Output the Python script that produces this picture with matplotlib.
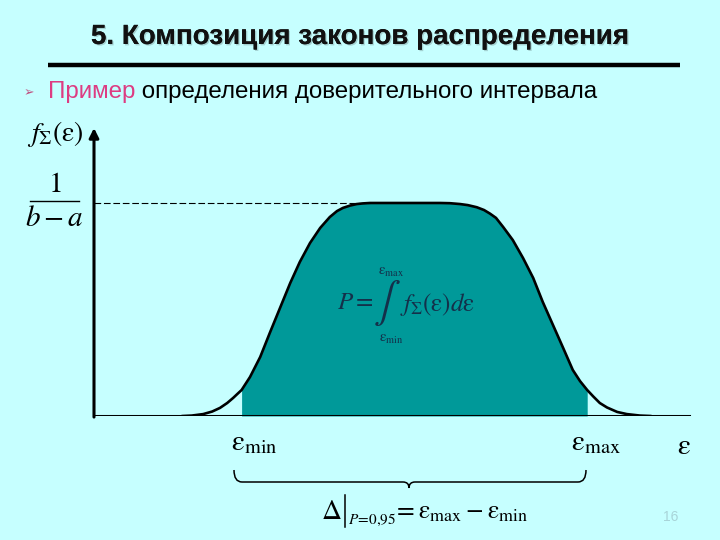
import numpy as np
import matplotlib.pyplot as plt
from matplotlib.path import Path
from matplotlib.patches import PathPatch
import matplotlib.patheffects as pe

plt.rcParams['mathtext.fontset'] = 'stix'
plt.rcParams['font.family'] = ['Liberation Sans', 'DejaVu Sans']

# curve: eps in 0..100 axis units, f normalised to 1/(b-a)
eps = [14.8, 16.3, 18.2, 19.7, 21.0, 22.2, 23.2, 23.8, 24.6, 26.0, 27.7, 29.3,
       31.0, 32.7, 34.3, 36.0, 37.7, 39.3, 40.5, 41.5, 42.7, 43.8, 44.8, 46.0,
       57.7, 59.3, 61.0, 62.3, 63.8, 65.0, 66.0, 67.0, 68.2, 69.8, 71.5, 73.2,
       74.8, 76.5, 78.2, 79.8, 81.0, 82.2, 83.2, 84.3, 85.5, 87.2, 88.8, 91.0, 92.7]
f_sum = [0.0, 0.002, 0.009, 0.021, 0.038, 0.061, 0.085, 0.101, 0.122, 0.183,
         0.277, 0.390, 0.507, 0.624, 0.723, 0.812, 0.883, 0.934, 0.962, 0.977,
         0.988, 0.995, 0.998, 1.0, 1.0, 0.999, 0.995, 0.990, 0.980, 0.967,
         0.950, 0.930, 0.887, 0.826, 0.742, 0.648, 0.535, 0.427, 0.319, 0.216,
         0.164, 0.122, 0.092, 0.061, 0.040, 0.019, 0.009, 0.002, 0.0]
eps_min = 24.6
eps_max = 82.2
level = 1.0          # 1/(b-a)
dash_end = 46.0

BG = '#C6FFFF'
TEAL = '#009999'
PINK = '#DD3C82'

eps = np.array(eps)
f_sum = np.array(f_sum)

fig = plt.figure(figsize=(7.2, 5.4), dpi=100, facecolor=BG)

# chart area (y axis at x=94px, baseline at y=416px)
ax = fig.add_axes([94 / 720, 1 - 416 / 540, 600 / 720, 288 / 540])
ax.set_xlim(0, 100)
ax.set_ylim(0, 1.352)
ax.patch.set_alpha(0)
for s in ax.spines.values():
    s.set_visible(False)
ax.set_xticks([])
ax.set_yticks([])

inside = (eps >= eps_min) & (eps <= eps_max)
ax.fill_between(eps[inside], 0, f_sum[inside], color=TEAL, lw=0, zorder=1)
ax.plot(eps, f_sum, color='black', lw=1.9, zorder=3, solid_joinstyle='round')
ax.hlines(level, 0, dash_end, colors='black', lw=0.8, linestyles=(0, (6, 2.5)), zorder=2)
ax.axhline(0, xmax=0.992, color='black', lw=2.2, zorder=4)
ax.annotate('', xy=(0, 1.352), xytext=(0, -0.005), xycoords='data',
            arrowprops=dict(arrowstyle='-|>', color='black', lw=2.2,
                            mutation_scale=14, shrinkA=0, shrinkB=0),
            annotation_clip=False, zorder=4)

# overlay in pixel coordinates for the slide text
ov = fig.add_axes([0, 0, 1, 1])
ov.set_xlim(0, 720)
ov.set_ylim(540, 0)
ov.axis('off')
ov.patch.set_alpha(0)

ov.text(360, 37, '5. Композиция законов распределения', ha='center', va='center',
        fontsize=20, fontweight='bold', color='#111111',
        path_effects=[pe.withSimplePatchShadow(offset=(1, -1), shadow_rgbFace='#7a9a9a', alpha=0.45),
                      pe.Normal()])
ov.plot([48, 680], [65, 65], color='black', lw=3.2, solid_capstyle='butt')

ov.text(29, 93, '➢', ha='center', va='center', fontsize=9, color='#C05080',
        family=['DejaVu Sans'])
t1 = ov.text(48, 92, 'Пример', ha='left', va='center', fontsize=17.4, color=PINK)
ov.annotate(' определения доверительного интервала', xy=(1, 0.5), xycoords=t1,
            ha='left', va='center', fontsize=17.4, color='black')

# axis labels
ov.text(55, 134, r'$f_{\Sigma}\left(\mathrm{ε}\right)$', ha='center', va='center',
        fontsize=20)
ov.text(55, 184, r'$\mathrm{1}$', ha='center', va='center', fontsize=21)
ov.plot([30, 79], [201, 201], color='black', lw=1)
ov.text(54, 218, r'$b-a$', ha='center', va='center', fontsize=21)

# integral on the filled area
ink = '#14304A'
ov.text(374, 302, r'$P=$', ha='right', va='center', fontsize=18, color=ink)
ov.text(387, 303, r'$\int$', ha='center', va='center', fontsize=29, color=ink)
ov.text(391, 272, r'$\mathrm{ε}_{\mathrm{max}}$', ha='center', va='center', fontsize=10.5, color=ink)
ov.text(391, 339, r'$\mathrm{ε}_{\mathrm{min}}$', ha='center', va='center', fontsize=10.5, color=ink)
ov.text(400, 304, r'$f_{\Sigma}\left(\mathrm{ε}\right)d\mathrm{ε}$',
        ha='left', va='center', fontsize=18, color=ink)

# eps labels under the axis
ov.text(231, 442, r'$\mathrm{ε}_{\mathrm{min}}$', ha='left', va='center', fontsize=21)
ov.text(571, 442, r'$\mathrm{ε}_{\mathrm{max}}$', ha='left', va='center', fontsize=21)
ov.text(684, 446, r'$\mathrm{ε}$', ha='center', va='center', fontsize=21)

# curly brace
xl, xr, xc = 234, 586, 409
yt, yb, tip = 470, 482, 488
verts = [(xl, yt), (xl, yb), (xl + 8, yb), (xc - 6, yb), (xc, yb), (xc, tip),
         (xc, yb), (xc + 6, yb), (xr - 8, yb), (xr, yb), (xr, yt)]
codes = [Path.MOVETO, Path.CURVE3, Path.CURVE3, Path.LINETO, Path.CURVE3, Path.CURVE3,
         Path.CURVE3, Path.CURVE3, Path.LINETO, Path.CURVE3, Path.CURVE3]
ov.add_patch(PathPatch(Path(verts, codes), fill=False, lw=1.1, edgecolor='black'))

# delta formula, with a tall evaluation bar
ov.text(342, 512, r'$\Delta$', ha='right', va='center', fontsize=20)
ov.plot([345, 345], [495, 527], color='black', lw=1.1)
ov.text(348, 520, r'$P\!=\!0{,}95$', ha='left', va='center', fontsize=11)
ov.text(393, 512, r'$=\mathrm{ε}_{\mathrm{max}}-\mathrm{ε}_{\mathrm{min}}$',
        ha='left', va='center', fontsize=18.5)

ov.text(671, 517, '16', ha='center', va='center', fontsize=10, color='#A8D4D8')

fig.savefig('out.png', dpi=100, facecolor=BG)
